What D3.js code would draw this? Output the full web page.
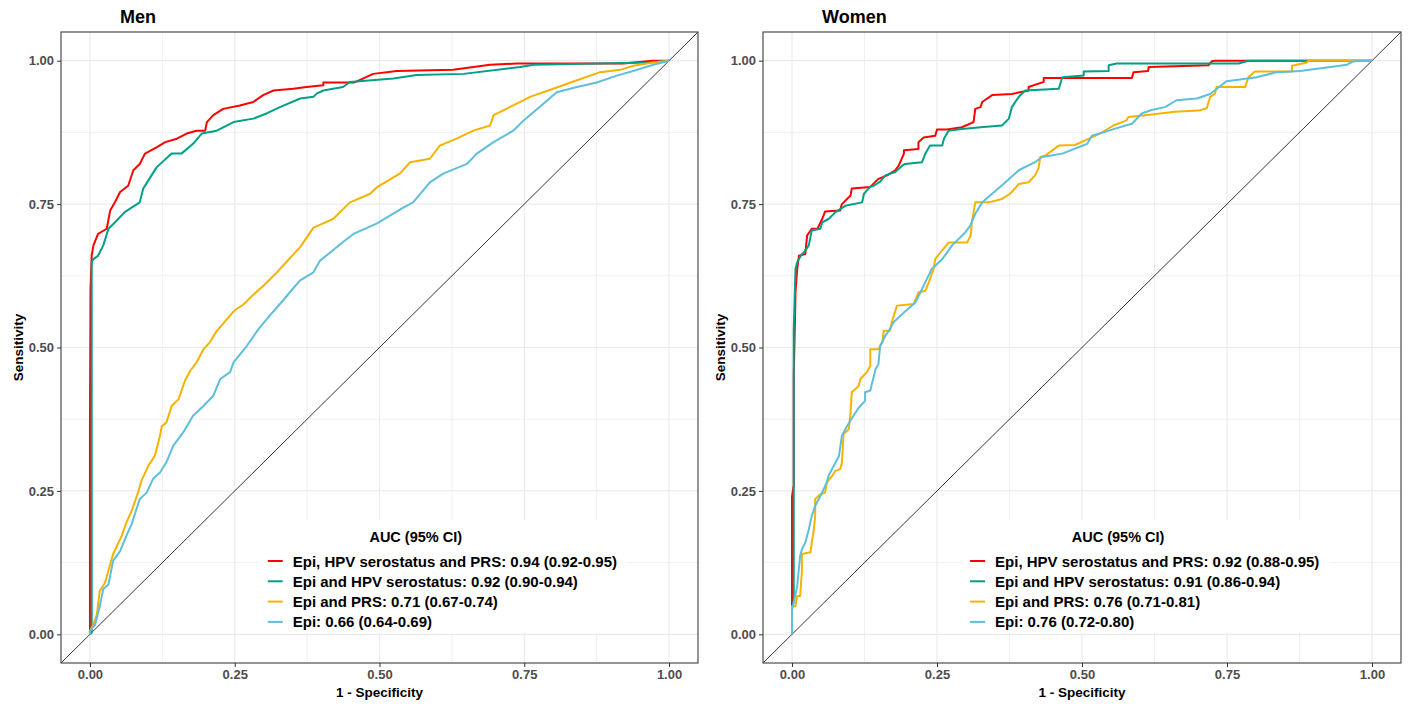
<!DOCTYPE html>
<html>
<head>
<meta charset="utf-8">
<script src="https://cdn.jsdelivr.net/npm/d3@7"></script>
<style>
  body { margin: 0; background: #fff; }
  svg { font-family: "Liberation Sans", Arial, sans-serif; }
</style>
</head>
<body>
<div id="vis"></div>
<script>
// ROC points as [1 - specificity, sensitivity]
const MEN_EPI_HPV_PRS = [[0,0],[0,0.36],[0.001,0.6],[0.003,0.66],[0.006,0.678],[0.014,0.698],[0.029,0.707],[0.035,0.739],
  [0.043,0.753],[0.052,0.771],[0.066,0.782],[0.075,0.809],[0.086,0.82],[0.095,0.838],[0.115,0.849],[0.13,0.858],
  [0.15,0.864],[0.167,0.873],[0.184,0.878],[0.199,0.878],[0.202,0.893],[0.213,0.905],[0.23,0.916],[0.259,0.922],
  [0.282,0.928],[0.299,0.94],[0.317,0.948],[0.351,0.951],[0.374,0.954],[0.403,0.957],[0.403,0.962],[0.455,0.962],
  [0.461,0.964],[0.489,0.977],[0.53,0.982],[0.627,0.984],[0.691,0.993],[0.737,0.995],[0.81,0.995],[0.921,0.995],
  [0.972,1],[1,1]];
const MEN_EPI_HPV = [[0,0],[0.003,0.003],[0.003,0.649],[0.006,0.654],[0.014,0.66],[0.023,0.678],[0.032,0.707],[0.043,0.718],
  [0.06,0.736],[0.086,0.753],[0.092,0.777],[0.115,0.814],[0.141,0.838],[0.158,0.838],[0.178,0.855],[0.193,0.873],
  [0.219,0.878],[0.248,0.893],[0.282,0.899],[0.305,0.908],[0.328,0.919],[0.363,0.934],[0.386,0.937],[0.392,0.943],
  [0.403,0.948],[0.437,0.954],[0.449,0.963],[0.524,0.969],[0.564,0.975],[0.645,0.977],[0.743,0.989],[0.766,0.993],
  [0.967,0.997],[1,1]];
const MEN_EPI_PRS = [[0,0],[0,0.006],[0.006,0.017],[0.012,0.035],[0.017,0.076],[0.026,0.09],[0.035,0.122],[0.04,0.14],
  [0.055,0.172],[0.063,0.195],[0.072,0.215],[0.083,0.247],[0.089,0.268],[0.101,0.294],[0.112,0.311],[0.121,0.346],
  [0.124,0.363],[0.132,0.369],[0.141,0.398],[0.153,0.41],[0.164,0.442],[0.173,0.459],[0.184,0.474],[0.196,0.497],
  [0.207,0.509],[0.219,0.529],[0.233,0.545],[0.25,0.565],[0.265,0.575],[0.28,0.59],[0.3,0.608],[0.32,0.628],
  [0.34,0.65],[0.363,0.675],[0.386,0.709],[0.42,0.724],[0.449,0.753],[0.484,0.768],[0.495,0.779],[0.535,0.803],
  [0.553,0.823],[0.587,0.829],[0.604,0.852],[0.633,0.864],[0.662,0.878],[0.691,0.887],[0.697,0.905],[0.725,0.919],
  [0.76,0.937],[0.8,0.951],[0.841,0.966],[0.881,0.98],[0.915,0.984],[0.938,0.991],[0.973,0.997],[1,1]];
const MEN_EPI = [[0,0],[0,0.006],[0.009,0.017],[0.017,0.049],[0.023,0.079],[0.032,0.087],[0.04,0.128],[0.052,0.145],
  [0.063,0.172],[0.072,0.192],[0.086,0.236],[0.098,0.247],[0.109,0.271],[0.121,0.282],[0.132,0.3],[0.144,0.329],
  [0.161,0.352],[0.178,0.381],[0.196,0.398],[0.213,0.416],[0.225,0.445],[0.242,0.457],[0.248,0.474],[0.271,0.503],
  [0.291,0.532],[0.31,0.555],[0.33,0.578],[0.35,0.602],[0.363,0.617],[0.386,0.631],[0.397,0.651],[0.437,0.684],
  [0.455,0.698],[0.495,0.716],[0.541,0.744],[0.558,0.753],[0.587,0.788],[0.61,0.803],[0.651,0.82],[0.668,0.838],
  [0.697,0.858],[0.731,0.878],[0.748,0.895],[0.783,0.925],[0.806,0.945],[0.841,0.954],[0.875,0.962],[0.91,0.974],
  [0.938,0.982],[0.973,0.993],[1,1]];

const WOMEN_EPI_HPV_PRS = [[0,0],[0,0.24],[0.003,0.26],[0.003,0.45],[0.005,0.541],[0.006,0.596],[0.009,0.637],[0.012,0.66],
  [0.023,0.663],[0.026,0.695],[0.034,0.707],[0.044,0.707],[0.052,0.724],[0.057,0.737],[0.083,0.739],[0.086,0.75],
  [0.101,0.765],[0.103,0.777],[0.135,0.78],[0.149,0.794],[0.164,0.8],[0.178,0.809],[0.184,0.817],[0.193,0.838],
  [0.193,0.844],[0.218,0.846],[0.218,0.858],[0.227,0.866],[0.247,0.869],[0.25,0.88],[0.267,0.88],[0.293,0.884],
  [0.313,0.893],[0.316,0.916],[0.325,0.919],[0.328,0.928],[0.345,0.94],[0.379,0.942],[0.408,0.948],[0.408,0.954],
  [0.434,0.963],[0.434,0.97],[0.586,0.97],[0.589,0.98],[0.614,0.982],[0.615,0.989],[0.718,0.992],[0.724,0.999],
  [0.729,1],[1,1]];
const WOMEN_EPI_HPV = [[0,0],[0,0.044],[0.003,0.06],[0.003,0.53],[0.005,0.6],[0.006,0.637],[0.009,0.649],[0.017,0.663],
  [0.02,0.665],[0.029,0.678],[0.034,0.704],[0.049,0.707],[0.052,0.718],[0.063,0.724],[0.075,0.736],[0.092,0.747],
  [0.121,0.753],[0.124,0.768],[0.135,0.78],[0.141,0.782],[0.152,0.789],[0.161,0.8],[0.178,0.806],[0.19,0.817],
  [0.195,0.82],[0.224,0.823],[0.23,0.838],[0.238,0.852],[0.259,0.852],[0.262,0.864],[0.27,0.878],[0.293,0.881],
  [0.325,0.884],[0.362,0.887],[0.374,0.899],[0.379,0.919],[0.391,0.937],[0.402,0.948],[0.46,0.951],[0.466,0.971],
  [0.503,0.974],[0.503,0.981],[0.546,0.982],[0.546,0.992],[0.56,0.995],[0.77,0.995],[0.784,0.999],[0.79,1],[1,1]];
const WOMEN_EPI_PRS = [[0,0],[0,0.049],[0.006,0.049],[0.009,0.067],[0.014,0.067],[0.017,0.108],[0.017,0.14],[0.032,0.143],
  [0.034,0.16],[0.037,0.177],[0.04,0.206],[0.04,0.236],[0.049,0.244],[0.057,0.247],[0.06,0.265],[0.069,0.276],
  [0.075,0.285],[0.083,0.288],[0.086,0.299],[0.089,0.349],[0.098,0.358],[0.101,0.387],[0.103,0.422],[0.115,0.433],
  [0.118,0.445],[0.129,0.457],[0.135,0.468],[0.135,0.497],[0.149,0.497],[0.156,0.509],[0.158,0.529],[0.169,0.529],
  [0.172,0.544],[0.181,0.573],[0.21,0.576],[0.218,0.596],[0.23,0.599],[0.236,0.614],[0.244,0.637],[0.247,0.654],
  [0.256,0.666],[0.27,0.683],[0.302,0.683],[0.308,0.695],[0.31,0.718],[0.316,0.753],[0.339,0.753],[0.362,0.759],
  [0.376,0.768],[0.391,0.785],[0.408,0.788],[0.419,0.8],[0.425,0.812],[0.428,0.832],[0.437,0.835],[0.46,0.852],
  [0.488,0.853],[0.512,0.864],[0.531,0.873],[0.554,0.887],[0.577,0.896],[0.58,0.902],[0.609,0.905],[0.66,0.911],
  [0.701,0.913],[0.715,0.917],[0.721,0.937],[0.729,0.942],[0.732,0.954],[0.781,0.954],[0.787,0.971],[0.798,0.981],
  [0.862,0.981],[0.862,0.991],[0.888,0.997],[0.89,1],[1,1]];
const WOMEN_EPI = [[0,0],[0,0.044],[0.003,0.055],[0.009,0.084],[0.014,0.137],[0.017,0.148],[0.023,0.16],[0.029,0.183],
  [0.034,0.206],[0.04,0.224],[0.049,0.241],[0.06,0.265],[0.063,0.276],[0.072,0.294],[0.081,0.311],[0.086,0.346],
  [0.095,0.363],[0.106,0.381],[0.115,0.395],[0.126,0.407],[0.126,0.422],[0.135,0.425],[0.144,0.462],[0.149,0.471],
  [0.152,0.503],[0.161,0.521],[0.167,0.529],[0.175,0.544],[0.193,0.561],[0.213,0.579],[0.23,0.614],[0.241,0.637],
  [0.259,0.654],[0.276,0.678],[0.299,0.701],[0.307,0.712],[0.316,0.733],[0.328,0.753],[0.345,0.768],[0.368,0.788],
  [0.391,0.809],[0.419,0.823],[0.431,0.832],[0.466,0.838],[0.494,0.849],[0.509,0.855],[0.517,0.869],[0.546,0.878],
  [0.575,0.887],[0.586,0.89],[0.603,0.908],[0.62,0.914],[0.643,0.919],[0.663,0.931],[0.698,0.934],[0.721,0.942],
  [0.749,0.964],[0.772,0.967],[0.801,0.971],[0.836,0.98],[0.876,0.982],[0.922,0.988],[0.957,0.993],[0.968,0.999],[1,1]];

const MEN_LABELS = ["Epi, HPV serostatus and PRS: 0.94 (0.92-0.95)", "Epi and HPV serostatus: 0.92 (0.90-0.94)",
  "Epi and PRS: 0.71 (0.67-0.74)", "Epi: 0.66 (0.64-0.69)"];
const WOMEN_LABELS = ["Epi, HPV serostatus and PRS: 0.92 (0.88-0.95)", "Epi and HPV serostatus: 0.91 (0.86-0.94)",
  "Epi and PRS: 0.76 (0.71-0.81)", "Epi: 0.76 (0.72-0.80)"];
const COLORS = ["#FF0000", "#00A087", "#F5B300", "#5DBFDB"];
const TICKS = [0, 0.25, 0.5, 0.75, 1];
const MINOR_TICKS = [0.125, 0.375, 0.625, 0.875];

const PANELS = [
  {title: "Men", left: 61, right: 698, series: [MEN_EPI_HPV_PRS, MEN_EPI_HPV, MEN_EPI_PRS, MEN_EPI], labels: MEN_LABELS},
  {title: "Women", left: 763, right: 1401, series: [WOMEN_EPI_HPV_PRS, WOMEN_EPI_HPV, WOMEN_EPI_PRS, WOMEN_EPI], labels: WOMEN_LABELS}
];
const TOP = 32, BOTTOM = 663;

const SVG = d3.select("#vis").append("svg")
  .attr("width", 1408).attr("height", 704);

PANELS.forEach((p) => {
  const X_SCALE = d3.scaleLinear().domain([-0.05, 1.05]).range([p.left, p.right]);
  const Y_SCALE = d3.scaleLinear().domain([-0.05, 1.05]).range([BOTTOM, TOP]);
  const g = SVG.append("g");

  // grid
  g.selectAll(".vminor").data(MINOR_TICKS).enter().append("line")
    .attr("x1", d => X_SCALE(d)).attr("x2", d => X_SCALE(d))
    .attr("y1", TOP).attr("y2", BOTTOM)
    .attr("stroke", "#EBEBEB").attr("stroke-width", 0.8);
  g.selectAll(".hminor").data(MINOR_TICKS).enter().append("line")
    .attr("y1", d => Y_SCALE(d)).attr("y2", d => Y_SCALE(d))
    .attr("x1", p.left).attr("x2", p.right)
    .attr("stroke", "#EBEBEB").attr("stroke-width", 0.8);
  g.selectAll(".vmajor").data(TICKS).enter().append("line")
    .attr("x1", d => X_SCALE(d)).attr("x2", d => X_SCALE(d))
    .attr("y1", TOP).attr("y2", BOTTOM)
    .attr("stroke", "#EBEBEB").attr("stroke-width", 1.2);
  g.selectAll(".hmajor").data(TICKS).enter().append("line")
    .attr("y1", d => Y_SCALE(d)).attr("y2", d => Y_SCALE(d))
    .attr("x1", p.left).attr("x2", p.right)
    .attr("stroke", "#EBEBEB").attr("stroke-width", 1.2);

  // reference diagonal
  g.append("line")
    .attr("x1", X_SCALE(-0.05)).attr("y1", Y_SCALE(-0.05))
    .attr("x2", X_SCALE(1.05)).attr("y2", Y_SCALE(1.05))
    .attr("stroke", "#000").attr("stroke-width", 0.8);

  // curves
  const line = d3.line().x(d => X_SCALE(d[0])).y(d => Y_SCALE(d[1]));
  p.series.forEach((s, i) => {
    g.append("path").datum(s)
      .attr("d", line)
      .attr("fill", "none")
      .attr("stroke", COLORS[i])
      .attr("stroke-width", 2)
      .attr("stroke-linejoin", "round");
  });

  // legend
  const lx = p.left + 0.312 * (p.right - p.left);
  const ly = 520;
  const leg = g.append("g").attr("transform", "translate(" + lx + "," + ly + ")");
  leg.append("rect").attr("width", 367).attr("height", 113).attr("fill", "#fff");
  leg.append("text").attr("x", 156).attr("y", 22)
    .attr("text-anchor", "middle").attr("font-weight", "bold").attr("font-size", "14.5px")
    .text("AUC (95% CI)");
  p.labels.forEach((lab, i) => {
    leg.append("line").attr("x1", 8).attr("x2", 23)
      .attr("y1", 41 + i * 20.3).attr("y2", 41 + i * 20.3)
      .attr("stroke", COLORS[i]).attr("stroke-width", 2);
    leg.append("text").attr("x", 33).attr("y", 46.5 + i * 20.3)
      .attr("font-weight", "bold").attr("font-size", "15px").attr("fill", "#000")
      .text(lab);
  });

  // panel border
  g.append("rect")
    .attr("x", p.left).attr("y", TOP)
    .attr("width", p.right - p.left).attr("height", BOTTOM - TOP)
    .attr("fill", "none").attr("stroke", "#4D4D4D").attr("stroke-width", 1.2);

  // axes
  const xAxis = g.append("g").attr("transform", "translate(0," + BOTTOM + ")")
    .call(d3.axisBottom(X_SCALE).tickValues(TICKS).tickFormat(d3.format(".2f")).tickSize(4).tickPadding(3));
  const yAxis = g.append("g").attr("transform", "translate(" + p.left + ",0)")
    .call(d3.axisLeft(Y_SCALE).tickValues(TICKS).tickFormat(d3.format(".2f")).tickSize(4).tickPadding(3));
  [xAxis, yAxis].forEach((a) => {
    a.select(".domain").remove();
    a.selectAll(".tick line").attr("stroke", "#333");
    a.selectAll(".tick text").attr("fill", "#4D4D4D").attr("font-weight", "bold")
      .attr("font-size", "13px").attr("font-family", "Liberation Sans, Arial, sans-serif");
  });

  // titles
  g.append("text").attr("x", (p.left + p.right) / 2).attr("y", 697)
    .attr("text-anchor", "middle").attr("font-weight", "bold").attr("font-size", "13.5px")
    .text("1 - Specificity");
  g.append("text")
    .attr("transform", "translate(" + (p.left - 38) + "," + ((TOP + BOTTOM) / 2) + ") rotate(-90)")
    .attr("text-anchor", "middle").attr("font-weight", "bold").attr("font-size", "13.5px")
    .text("Sensitivity");
  g.append("text").attr("x", p.left + 59).attr("y", 23)
    .attr("font-weight", "bold").attr("font-size", "18px")
    .text(p.title);
});
</script>
</body>
</html>
